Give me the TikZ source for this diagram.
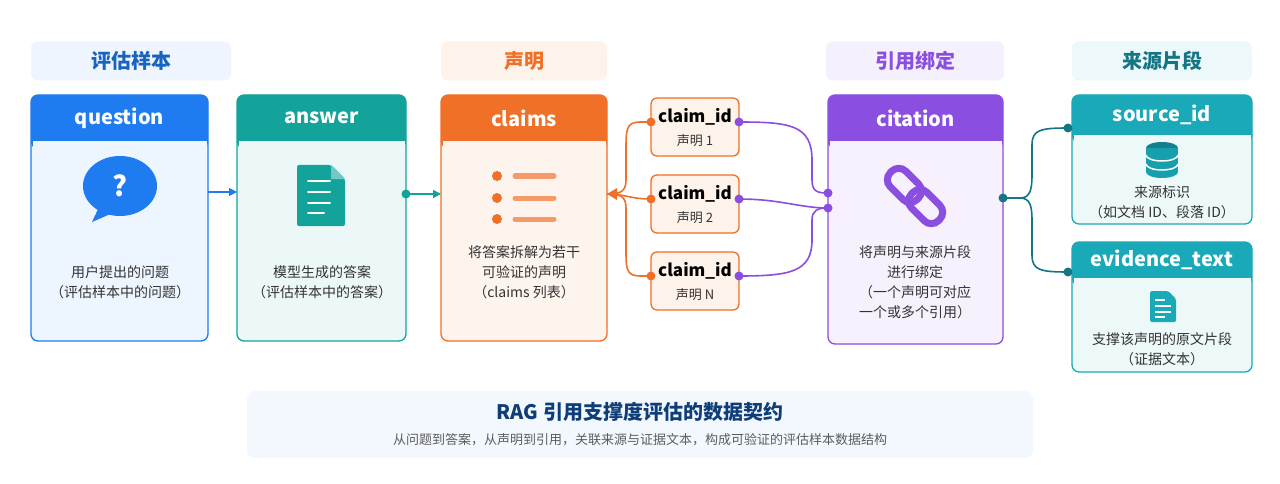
\documentclass[tikz,border=0pt]{standalone}
\usepackage{fontspec}
\setmainfont{Noto Sans CJK SC}
\usetikzlibrary{arrows.meta,calc}
\definecolor{cb}{HTML}{1E7BF0}\definecolor{cbl}{HTML}{EEF5FE}
\definecolor{ct}{HTML}{14A39A}\definecolor{ctl}{HTML}{ECF9F7}
\definecolor{co}{HTML}{F07028}\definecolor{col}{HTML}{FEF3EA}
\definecolor{cp}{HTML}{8A4FE0}\definecolor{cpl}{HTML}{F5F0FE}
\definecolor{cc}{HTML}{1AA9B8}\definecolor{ccl}{HTML}{ECF8F9}
\definecolor{cdk}{HTML}{137585}
\definecolor{txt}{HTML}{333333}
\tikzset{x=1pt,y=-1pt,
 hdr/.style={rounded corners=7pt,font=\bfseries\fontsize{20}{22}\selectfont},
 conn/.style={line width=1.6pt},
 body/.style={font=\fontsize{14}{20}\selectfont,text=txt,align=center},
 title/.style={font=\bfseries\fontsize{20}{22}\selectfont,text=white}}
\newcommand{\card}[7]{% name x1 y1 x2 y2 headerbottom colour
 \fill[#7!8,rounded corners=7pt] (#2,#3) rectangle (#4,#5);
 \fill[#7,rounded corners=7pt] (#2,#3) rectangle (#4,#6+8);
 \fill[#7!8] (#2+1.5,#6) rectangle (#4-1.5,#6+10);
 \draw[#7,line width=1.3pt,rounded corners=7pt] (#2,#3) rectangle (#4,#5);
 \coordinate (#1) at ({(#2+#4)/2},{(#3+#6)/2});}
\begin{document}
\begin{tikzpicture}
\useasboundingbox (0,0) rectangle (1280,484);
\fill[white] (0,0) rectangle (1280,484);
% headers
\node[hdr,fill=cbl,text=cb!80!black,minimum width=200pt,minimum height=39pt] (h1) at (131,61) {评估样本};
\node[hdr,fill=col,text=co,minimum width=166pt,minimum height=39pt] (h2) at (524,61) {声明};
\node[hdr,fill=cpl,text=cp,minimum width=178pt,minimum height=39pt] (h3) at (915,61) {引用绑定};
\node[hdr,fill=ccl,text=cdk,minimum width=180pt,minimum height=39pt] (h4) at (1162,61) {来源片段};
% cards
\card{q}{31}{95}{208}{341}{141}{cb}
\card{a}{237}{95}{406}{341}{141}{ct}
\card{c}{441}{95}{607}{341}{141}{co}
\card{ci}{828}{95}{1003}{344}{141}{cp}
\card{s}{1072}{95}{1252}{224}{135}{cc}
\card{e}{1072}{242}{1252}{372}{278}{cc}
\node[title] at (q) {question};
\node[title] at (a) {answer};
\node[title] at (c) {claims};
\node[title] at (ci) {citation};
\node[title] at (s) {source\_id};
\node[title] at (e) {evidence\_text};
\node[body] (qt) at (120,282) {用户提出的问题\\（评估样本中的问题）};
\node[body] (at) at (322,282) {模型生成的答案\\（评估样本中的答案）};
\node[body] (ct2) at (524,272) {将答案拆解为若干\\可验证的声明\\（claims 列表）};
\node[body] (cit) at (915,282) {将声明与来源片段\\进行绑定\\（一个声明可对应\\一个或多个引用）};
\node[body] (st) at (1162,202) {来源标识\\（如文档 ID、段落 ID）};
\node[body] (et) at (1162,349) {支撑该声明的原文片段\\（证据文本）};
% icons
\fill[cb] (120,186) ellipse (37pt and 30pt);
\fill[cb] (100,205) -- (92,222) -- (115,212) -- cycle;
\node[text=white,font=\bfseries\fontsize{28}{28}\selectfont] at (120,186) {?};
\fill[ct,rounded corners=2pt] (297,165) -- (331,165) -- (345,179) -- (345,226) -- (297,226) -- cycle;
\fill[ct!60!white] (331,165) -- (345,179) -- (331,179) -- cycle;
\foreach \yy/\w in {181/22,192/22,203/22,213/16}\draw[white,line width=2pt,line cap=round] (308,\yy) -- (308+\w,\yy);
\foreach \yy in {176,198,219}{\fill[co] (497,\yy) circle (5pt);
 \draw[co!70!white,line width=5pt,line cap=round] (515,\yy) -- (554,\yy);}
\begin{scope}[shift={(915,196)},rotate=-45]
\draw[cp,line width=7pt,rounded corners=10pt] (-34,-11) rectangle (4,11);
\draw[cp,line width=7pt,rounded corners=10pt] (-4,-11) rectangle (34,11);
\end{scope}
\fill[cdk!80!cc] (1162,148) ellipse (16pt and 6pt);
\fill[cc!80!cdk] (1146,148) rectangle (1178,172);
\fill[cc!80!cdk] (1162,172) ellipse (16pt and 6pt);
\draw[white,line width=1.5pt] (1146,155) arc[start angle=180,end angle=360,x radius=16pt,y radius=6pt];
\draw[white,line width=1.5pt] (1146,164) arc[start angle=180,end angle=360,x radius=16pt,y radius=6pt];
\fill[cc,rounded corners=1.5pt] (1150,291) -- (1168,291) -- (1176,299) -- (1176,322) -- (1150,322) -- cycle;
\foreach \yy/\w in {300/10,306/16,312/16,317/10}\draw[white,line width=1.3pt] (1155,\yy) -- (1155+\w,\yy);
% claim ids
\foreach \n/\yy/\lab in {1/127/1,2/204/2,3/281/N}{
 \draw[co,line width=1.3pt,fill=col,rounded corners=6pt] (651,\yy-29) rectangle (739,\yy+29);
 \node[font=\bfseries\fontsize{17}{19}\selectfont,text=black] at (695,\yy-10) {claim\_id};
 \node[body,font=\fontsize{13}{15}\selectfont] at (695,\yy+14) {声明 \lab};
 \coordinate (cl\n) at (651,\yy-5);
 \coordinate (cr\n) at (739,\yy-5);}
% connectors
\coordinate (qr) at (208,192);\coordinate (al) at (237,192);
\draw[cb,conn,-{Triangle[length=8pt,width=8pt]}] (qr) -- (al);
\coordinate (ar) at (406,194);\coordinate (cL) at (441,194);
\draw[ct,conn,-{Triangle[length=8pt,width=8pt]}] (ar) -- (cL);
\fill[ct] (ar) circle (4.5pt);
\coordinate (cR) at (607,194);
\draw[co,conn] (cl1) -- (640,122) .. controls (626,122) and (626,130) .. (626,150) -- (626,180) .. controls (626,192) and (620,194) .. (cR);
\draw[co,conn] (cl3) -- (640,276) .. controls (626,276) and (626,268) .. (626,250) -- (626,208) .. controls (626,196) and (620,194) .. (cR);
\draw[co,conn] (cl2) .. controls (630,199) and (625,194) .. (cR);
\fill[co] (cR) -- ++(10,-6) -- ++(0,12) -- cycle;
\foreach \n in {1,2,3}\fill[co] (cl\n) circle (4.5pt);
\coordinate (ciA) at (828,193);\coordinate (ciB) at (828,208);
\draw[cp,conn] (cr1) .. controls (790,122) and (812,125) .. (812,160) -- (812,180) .. controls (812,192) and (818,193) .. (ciA);
\draw[cp,conn] (cr2) .. controls (780,199) and (800,208) .. (ciB);
\draw[cp,conn] (cr3) .. controls (790,276) and (812,272) .. (812,240) -- (812,220) .. controls (812,210) and (818,208) .. (ciB);
\foreach \p in {cr1,cr2,cr3,ciA,ciB}\fill[cp] (\p) circle (4.5pt);
\coordinate (ciR) at (1003,198);\coordinate (sL) at (1068,128);\coordinate (eL) at (1068,272);
\draw[cdk,conn] (ciR) -- (1020,198) .. controls (1030,198) and (1032,190) .. (1032,175) -- (1032,145) .. controls (1032,130) and (1040,128) .. (sL);
\draw[cdk,conn] (1020,198) .. controls (1030,198) and (1032,206) .. (1032,220) -- (1032,255) .. controls (1032,270) and (1040,272) .. (eL);
\foreach \p in {ciR,sL,eL}\fill[cdk] (\p) circle (4.5pt);
% bottom
\fill[cbl!70!white,rounded corners=8pt] (247,391) rectangle (1033,458);
\node[font=\bfseries\fontsize{20}{22}\selectfont,text=cb!50!black] (bt) at (640,412) {RAG 引用支撑度评估的数据契约};
\node[font=\fontsize{13}{15}\selectfont,text=txt!80] (bs) at (640,440) {从问题到答案，从声明到引用，关联来源与证据文本，构成可验证的评估样本数据结构};
\end{tikzpicture}
\end{document}
